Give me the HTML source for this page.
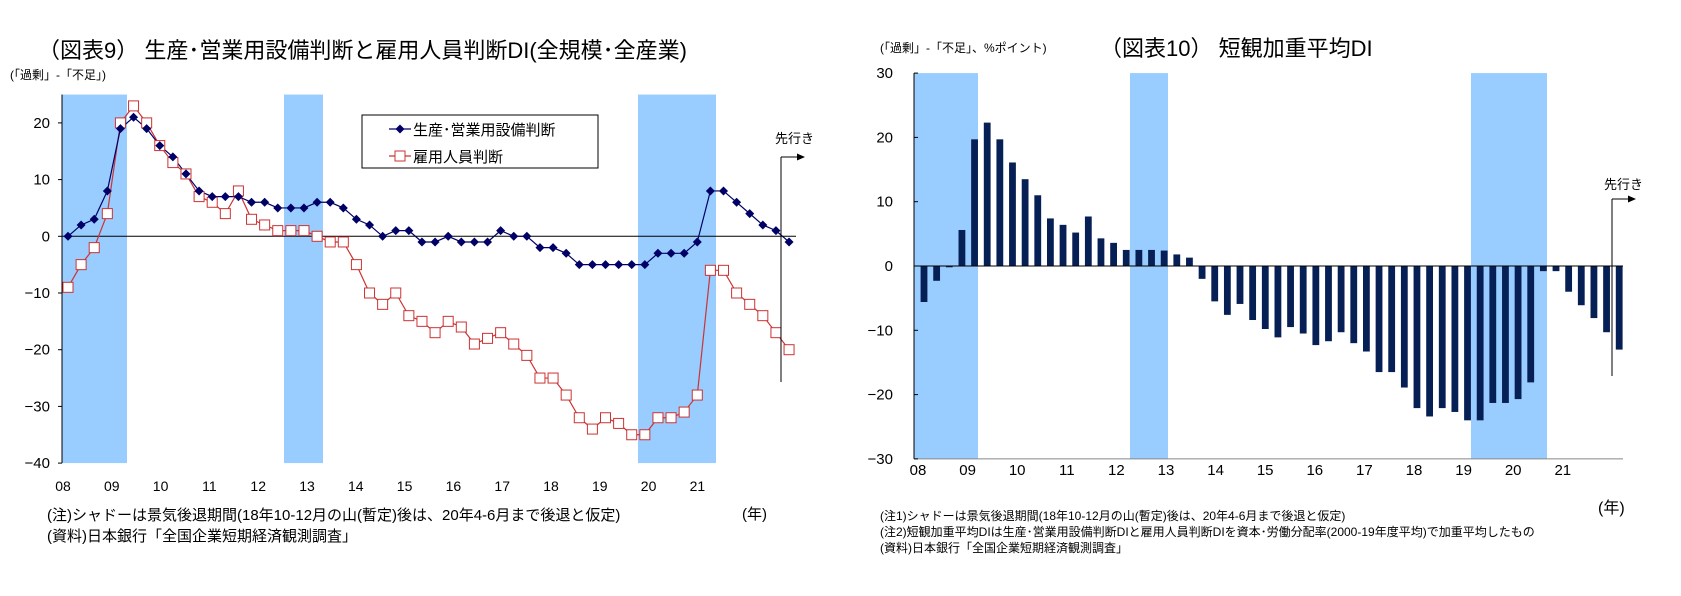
<!DOCTYPE html>
<html><head><meta charset="utf-8">
<style>
html,body{margin:0;padding:0;background:#fff;}
svg{display:block;font-family:"Liberation Sans","Noto Sans CJK JP",sans-serif;}
</style></head>
<body>
<svg id="c" width="1681" height="596" viewBox="0 0 1681 596" xmlns="http://www.w3.org/2000/svg">
<text x="38" y="58" font-size="22" fill="#000">（図表9） 生産･営業用設備判断と雇用人員判断DI(全規模･全産業)</text>
<text x="10" y="79" font-size="12" fill="#000">(「過剰」-「不足」)</text>
<text x="880" y="52" font-size="12" fill="#000">(「過剰」-「不足」、%ポイント)</text>
<text x="1100" y="56" font-size="22" fill="#000">（図表10） 短観加重平均DI</text>
<g id="left"></g>
<g id="right"></g>
<text x="47" y="520" font-size="15" fill="#000">(注)シャドーは景気後退期間(18年10-12月の山(暫定)後は、20年4-6月まで後退と仮定)</text>
<text x="47" y="541" font-size="15" fill="#000">(資料)日本銀行「全国企業短期経済観測調査」</text>
<text x="742" y="519" font-size="15" fill="#000">(年)</text>
<text x="880" y="520" font-size="12" fill="#000">(注1)シャドーは景気後退期間(18年10-12月の山(暫定)後は、20年4-6月まで後退と仮定)</text>
<text x="880" y="536" font-size="12" fill="#000">(注2)短観加重平均DIは生産･営業用設備判断DIと雇用人員判断DIを資本･労働分配率(2000-19年度平均)で加重平均したもの</text>
<text x="880" y="552" font-size="12" fill="#000">(資料)日本銀行「全国企業短期経済観測調査」</text>
<text x="1598" y="513" font-size="16" fill="#000">(年)</text>
</svg>
<script>
const years = ["08","09","10","11","12","13","14","15","16","17","18","19","20","21"];
const leftTicks = [20,10,0,-10,-20,-30,-40];
const rightTicks = [30,20,10,0,-10,-20,-30];
const equipment = [0,2,3,8,19,21,19,16,14,11,8,7,7,7,6,6,5,5,5,6,6,5,3,2,0,1,1,-1,-1,0,-1,-1,-1,1,0,0,-2,-2,-3,-5,-5,-5,-5,-5,-5,-3,-3,-3,-1,8,8,6,4,2,1,-1];
const employment = [-9,-5,-2,4,20,23,20,16,13,11,7,6,4,8,3,2,1,1,1,0,-1,-1,-5,-10,-12,-10,-14,-15,-17,-15,-16,-19,-18,-17,-19,-21,-25,-25,-28,-32,-34,-32,-33,-35,-35,-32,-32,-31,-28,-6,-6,-10,-12,-14,-17,-20];
const weighted = [-5.6,-2.3,-0.2,5.6,19.7,22.3,19.7,16.1,13.5,11.0,7.4,6.4,5.2,7.7,4.3,3.6,2.5,2.5,2.5,2.4,1.8,1.3,-2.0,-5.5,-7.6,-5.9,-8.4,-9.8,-11.1,-9.5,-10.5,-12.3,-11.7,-10.3,-12.0,-13.3,-16.5,-16.5,-18.9,-22.1,-23.4,-22.1,-22.7,-24.0,-24.0,-21.3,-21.3,-20.7,-18.1,-0.8,-0.8,-4.0,-6.1,-8.1,-10.3,-13.0];
const recessions = [[0,4.5],[16.8,19.6],[44,50]];

const NS="http://www.w3.org/2000/svg";
function mk(parent,tag,attrs){const e=document.createElementNS(NS,tag);for(const k in attrs)e.setAttribute(k,attrs[k]);parent.appendChild(e);return e;}

// LEFT
const L=document.getElementById('left');
const lx=i=>68+i*13.11;
const ly=v=>236.3-v*5.67;
const lShadeX=q=>62+q*(lx(4)-62)/4.5;
recessions.forEach(([a,b],k)=>{
  const r=mk(L,'rect',{x:[62,284,638][k],y:ly(25),width:[65,39,78][k],height:ly(-40)-ly(25),fill:'#99ccff'});
  
  
});
let a=mk(L,'line',{x1:62,y1:ly(25),x2:62,y2:ly(-40),stroke:'#000','stroke-width':1});

a=mk(L,'line',{x1:62,y1:ly(0),x2:796,y2:ly(0),stroke:'#000','stroke-width':1});

leftTicks.forEach(t=>{
  mk(L,'line',{x1:58,y1:ly(t),x2:62,y2:ly(t),stroke:'#000'});
  const tx=mk(L,'text',{x:50,y:ly(t)+5,'font-size':15,'text-anchor':'end'});
  tx.textContent=t<0?'−'+(-t):String(t);
  
  
});
years.forEach((y,i)=>{
  const tx=mk(L,'text',{x:63+i*48.8,y:491,'font-size':14,'text-anchor':'middle'});
  tx.textContent=y;
  
  
});
let p=mk(L,'polyline',{points:employment.map((v,i)=>lx(i)+','+ly(v)).join(' '),fill:'none',stroke:'#cc3333','stroke-width':1.2});

p=mk(L,'polyline',{points:equipment.map((v,i)=>lx(i)+','+ly(v)).join(' '),fill:'none',stroke:'#000066','stroke-width':1.2});

employment.forEach((v,i)=>{
  const s=mk(L,'rect',{x:lx(i)-5,y:ly(v)-5,width:10,height:10,fill:'#fff',stroke:'#cc3333','stroke-width':1});
  
  
});
equipment.forEach((v,i)=>{
  const x=lx(i),y=ly(v);
  const d=mk(L,'polygon',{points:`${x},${y-4.5} ${x+4.5},${y} ${x},${y+4.5} ${x-4.5},${y}`,fill:'#000066'});
  
  
});
// legend
const lg=mk(L,'g',{});

mk(lg,'rect',{x:362,y:115,width:236,height:53,fill:'#fff',stroke:'#000'});
mk(lg,'line',{x1:389,y1:129,x2:411,y2:129,stroke:'#000066','stroke-width':1.2});
mk(lg,'polygon',{points:'400,124.5 404.5,129 400,133.5 395.5,129',fill:'#000066'});
let t=mk(lg,'text',{x:413,y:135,'font-size':15});t.textContent='生産･営業用設備判断';

mk(lg,'line',{x1:389,y1:156,x2:411,y2:156,stroke:'#cc3333','stroke-width':1.2});
mk(lg,'rect',{x:395,y:151,width:10,height:10,fill:'#fff',stroke:'#cc3333'});
t=mk(lg,'text',{x:413,y:162,'font-size':15});t.textContent='雇用人員判断';

// forecast marker
mk(L,'line',{x1:781,y1:157,x2:781,y2:382,stroke:'#000'});
mk(L,'line',{x1:781,y1:157,x2:798,y2:157,stroke:'#000'});
mk(L,'polygon',{points:'805,157 797,153.5 797,160.5',fill:'#000'});
t=mk(L,'text',{x:775,y:143,'font-size':13});t.textContent='先行き';


// RIGHT
const R=document.getElementById('right');
const rx=i=>924+i*12.64;
const ry=v=>266-v*6.43;
[[914,64],[1130,38],[1471,76]].forEach(([x,w])=>{
  const r=mk(R,'rect',{x:x,y:ry(30),width:w,height:ry(-30)-ry(30),fill:'#99ccff'});
  
  
});
weighted.forEach((v,i)=>{
  const y0=ry(0),y1=ry(v);
  const b=mk(R,'rect',{x:rx(i)-3.4,y:Math.min(y0,y1),width:6.8,height:Math.abs(y1-y0),fill:'#061f54'});
  
  
});
a=mk(R,'line',{x1:914,y1:ry(30),x2:914,y2:ry(-30),stroke:'#000'});

a=mk(R,'line',{x1:914,y1:ry(-30),x2:1623,y2:ry(-30),stroke:'#888'});

a=mk(R,'line',{x1:914,y1:ry(0),x2:1623,y2:ry(0),stroke:'#000'});

rightTicks.forEach(v=>{
  mk(R,'line',{x1:914,y1:ry(v),x2:918,y2:ry(v),stroke:'#000'});
  const tx=mk(R,'text',{x:893,y:ry(v)+5,'font-size':15,'text-anchor':'end'});
  tx.textContent=v<0?'−'+(-v):String(v);
  
  
});
years.forEach((y,i)=>{
  const tx=mk(R,'text',{x:918+i*49.6,y:475,'font-size':15,'text-anchor':'middle'});
  tx.textContent=y;
  
  
});
mk(R,'line',{x1:1612,y1:199,x2:1612,y2:376,stroke:'#000'});
mk(R,'line',{x1:1612,y1:199,x2:1628,y2:199,stroke:'#000'});
mk(R,'polygon',{points:'1636,199 1628,195.5 1628,202.5',fill:'#000'});
t=mk(R,'text',{x:1604,y:189,'font-size':13});t.textContent='先行き';

</script>
</body></html>
